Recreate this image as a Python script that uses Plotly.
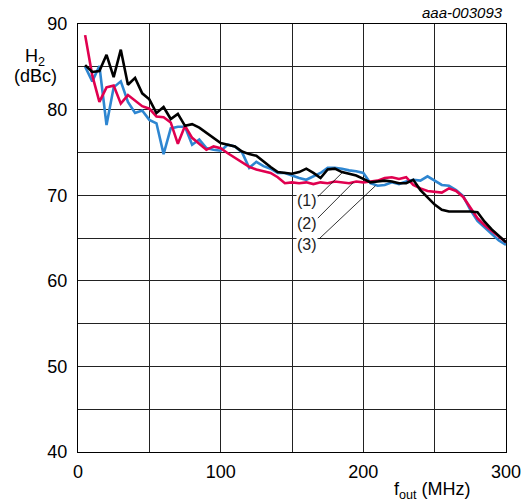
import plotly.graph_objects as go

freq = list(range(5, 305, 5))

red_h2 = [88.7, 84.0, 80.9, 82.6, 82.8, 80.7, 81.7, 81.0, 80.4, 80.1,
          79.2, 79.1, 78.5, 76.0, 78.1, 76.7, 76.0, 75.3, 75.7, 75.5,
          74.9, 74.4, 73.9, 73.3, 73.0, 72.8, 72.6, 72.1, 71.4, 71.5,
          71.4, 71.5, 71.3, 71.5, 71.4, 71.6, 71.5, 71.4, 71.6, 71.5,
          71.6, 71.7, 72.0, 72.1, 71.9, 72.1, 71.2, 70.8, 70.5, 70.4,
          70.3, 70.8, 70.5, 69.8, 68.5, 67.3, 66.5, 65.8, 65.2, 64.5]

black_h2 = [85.2, 84.4, 84.5, 86.4, 83.8, 87.0, 82.9, 83.7, 81.9, 81.2,
            79.6, 80.3, 78.9, 79.5, 78.1, 78.3, 77.9, 77.3, 76.8, 76.1,
            75.9, 75.7, 75.1, 74.8, 74.6, 73.9, 73.3, 72.7, 72.6, 72.5,
            72.7, 73.1, 72.6, 72.0, 73.0, 73.1, 72.7, 72.5, 72.3, 71.9,
            71.5, 71.6, 71.7, 71.6, 71.4, 71.4, 71.8, 70.6, 69.7, 68.9,
            68.3, 68.1, 68.1, 68.1, 68.1, 68.0, 66.9, 66.0, 65.3, 64.5]

blue_h2 = [85.0, 83.3, 85.1, 78.2, 82.6, 83.3, 80.9, 79.6, 79.9, 78.8,
           78.4, 74.8, 77.8, 78.0, 78.0, 75.9, 76.5, 75.5, 75.3, 75.2,
           75.9, 75.7, 75.0, 73.2, 73.9, 73.4, 73.1, 72.6, 72.6, 72.3,
           72.0, 71.8, 72.2, 72.6, 73.2, 73.2, 73.1, 72.9, 72.8, 72.6,
           71.4, 71.1, 71.2, 71.5, 71.3, 71.6, 71.8, 71.7, 72.2, 71.7,
           71.2, 71.1, 70.6, 69.9, 68.3, 67.0, 66.2, 65.4, 64.7, 64.2]

x_ticks = [0, 100, 200, 300]
y_ticks = [40, 50, 60, 70, 80, 90]

curve_labels = ["(1)", "(2)", "(3)"]
label_x = [160.5, 160.5, 160.5]
label_y = [69.4, 66.7, 64.2]
leader_start_x = [168.0, 168.0, 169.0]
leader_start_y = [69.8, 67.3, 64.9]
leader_end_x = [185.0, 193.0, 208.5]
leader_end_y = [72.6, 71.5, 71.1]

FONT = "Liberation Sans, Arial, sans-serif"

fig = go.Figure()
fig.add_trace(go.Scatter(x=freq, y=blue_h2, mode="lines",
                         line=dict(color="#2e86d1", width=2.6), showlegend=False))
fig.add_trace(go.Scatter(x=freq, y=red_h2, mode="lines",
                         line=dict(color="#e0004f", width=2.6), showlegend=False))
fig.add_trace(go.Scatter(x=freq, y=black_h2, mode="lines",
                         line=dict(color="#000000", width=2.6), showlegend=False))

for i, lab in enumerate(curve_labels):
    fig.add_shape(type="line", x0=leader_start_x[i], y0=leader_start_y[i],
                  x1=leader_end_x[i], y1=leader_end_y[i],
                  line=dict(color="black", width=0.8))
    fig.add_annotation(x=label_x[i], y=label_y[i], text=lab, showarrow=False,
                       xanchor="center", yanchor="middle",
                       font=dict(family=FONT, size=16, color="#222"),
                       bgcolor="white", borderpad=0)

fig.update_xaxes(range=[0, 300], tickvals=x_ticks, showgrid=True,
                 gridcolor="#222", gridwidth=1, automargin=False,
                 minor=dict(dtick=50, showgrid=True, gridcolor="#222", gridwidth=1),
                 showline=True, linecolor="black", linewidth=1.2, mirror=True,
                 ticks="", zeroline=False, ticklabelstandoff=3,
                 tickfont=dict(family=FONT, size=18, color="black"))
fig.update_yaxes(range=[40, 90], tickvals=y_ticks, showgrid=True,
                 gridcolor="#222", gridwidth=1, automargin=False,
                 minor=dict(dtick=5, showgrid=True, gridcolor="#222", gridwidth=1),
                 showline=True, linecolor="black", linewidth=1.2, mirror=True,
                 ticks="", zeroline=False, ticklabelstandoff=6,
                 tickfont=dict(family=FONT, size=18, color="black"))


def px_x(p):
    return (p - 78) / 428


def px_y(p):
    return 1 - (p - 24) / 428


fig.add_annotation(xref="paper", yref="paper", x=px_x(35), y=px_y(57),
                   xanchor="center", yanchor="middle",
                   text="H<sub>2</sub>", showarrow=False,
                   font=dict(family=FONT, size=18, color="black"))
fig.add_annotation(xref="paper", yref="paper", x=px_x(35), y=px_y(76),
                   xanchor="center", yanchor="middle",
                   text="(dBc)", showarrow=False,
                   font=dict(family=FONT, size=18, color="black"))
fig.add_annotation(xref="paper", yref="paper", x=px_x(432), y=px_y(490),
                   xanchor="center", yanchor="middle",
                   text="f<sub>out</sub> (MHz)", showarrow=False,
                   font=dict(family=FONT, size=18, color="black"))
fig.add_annotation(xref="paper", yref="paper", x=px_x(505), y=px_y(12),
                   xanchor="right", yanchor="middle",
                   text="<i>aaa-003093</i>", showarrow=False,
                   font=dict(family=FONT, size=15, color="black"))

fig.update_layout(width=523, height=502,
                  margin=dict(l=78, r=17, t=24, b=50),
                  plot_bgcolor="white", paper_bgcolor="white",
                  font=dict(family=FONT))

fig.write_html("out.html", config={"displayModeBar": False},
               post_script="document.body.style.margin='0px';document.body.style.overflow='hidden';")
